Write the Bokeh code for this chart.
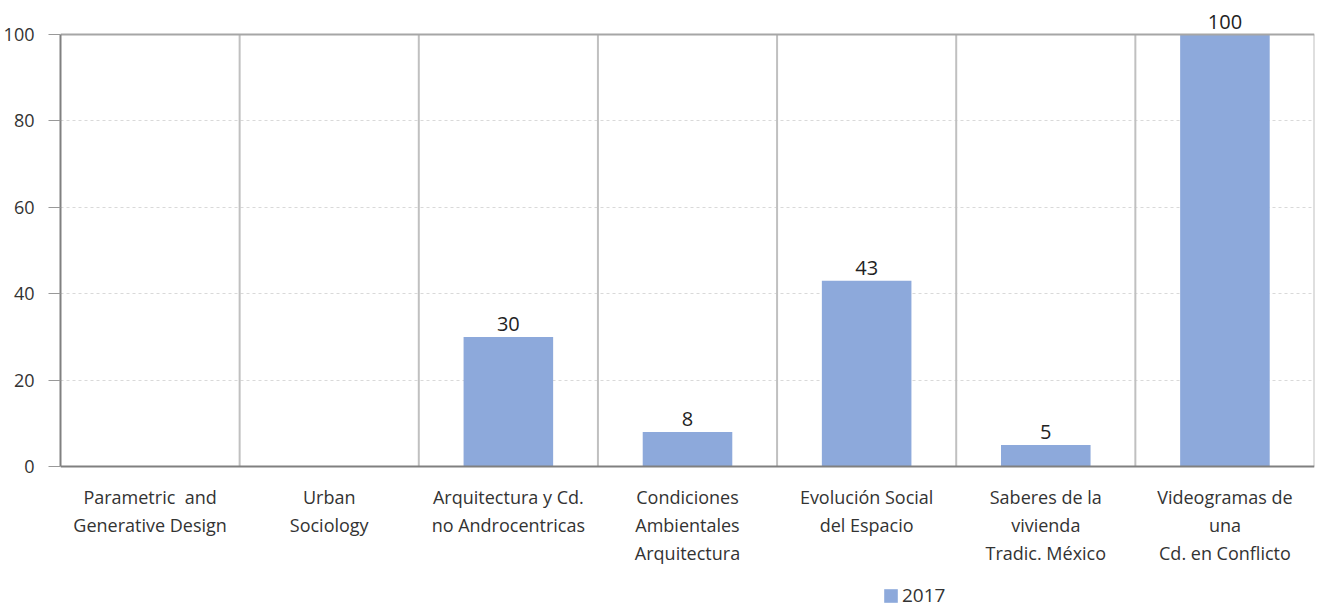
from bokeh.plotting import figure
from bokeh.models import ColumnDataSource, LabelSet, Legend, LegendItem, FixedTicker
from bokeh.core.properties import value
from bokeh.embed import file_html
from bokeh.resources import INLINE

categories = [
    "Parametric\u00a0 and\nGenerative Design",
    "Urban\nSociology",
    "Arquitectura y Cd.\nno Androcentricas",
    "Condiciones\nAmbientales\nArquitectura",
    "Evolución Social\ndel Espacio",
    "Saberes de la\nvivienda\nTradic. México",
    "Videogramas de\nuna\nCd. en Conflicto",
]
values_2017 = [0, 0, 30, 8, 43, 5, 100]
value_labels = ["", "", "30", "8", "43", "5", "100"]
series_name = "2017"
y_ticks = [0, 20, 40, 60, 80, 100]

FONT = "Open Sans"
H, W = 608, 1318
TOP_PX, ZERO_PX = 34, 466        # page rows of the 100 line and of the 0 line
TOP_PAD = 24                     # headroom above the 100 line for the value label
y_max = max(y_ticks)
px_per_unit = (ZERO_PX - TOP_PX) / y_max
y_end = y_max + TOP_PAD / px_per_unit
y_start = -(H - ZERO_PX) / px_per_unit

p = figure(x_range=categories, y_range=(y_start, y_end), width=W, height=H,
           output_backend="svg", toolbar_location=None,
           min_border_left=60, min_border_right=4, min_border_top=TOP_PX - TOP_PAD,
           min_border_bottom=0)
p.outline_line_color = None

src = ColumnDataSource(dict(cat=categories, val=values_2017, lab=value_labels))
r = p.vbar(x="cat", top="val", width=0.5, source=src, color="#8DA9DB", line_color=None)

# category separators and frame (top + right border)
n = len(categories)
sep_x = list(range(1, n + 1))
p.segment(x0=sep_x, y0=[0] * n, x1=sep_x, y1=[y_max] * n, line_color="#c0c0c0", line_width=2)
p.segment(x0=[0], y0=[y_max], x1=[n], y1=[y_max], line_color="#a6a6a6", line_width=2)

labels = LabelSet(x="cat", y="val", text="lab", source=src, y_offset=6,
                  text_align="center", text_baseline="bottom",
                  text_font=value(FONT), text_font_size="20px", text_color="#222222")
p.add_layout(labels)

p.xgrid.grid_line_color = None
p.ygrid.ticker = FixedTicker(ticks=y_ticks[1:-1])
p.ygrid.grid_line_color = "#d9d9d9"
p.ygrid.grid_line_dash = "3 3"
p.ygrid.grid_line_width = 1

p.yaxis.ticker = FixedTicker(ticks=y_ticks)
p.yaxis.bounds = (0, y_max)
p.yaxis.axis_line_color = "#808080"
p.yaxis.axis_line_width = 2
p.yaxis.major_tick_line_color = "#999999"
p.yaxis.major_tick_out = 12
p.yaxis.major_tick_in = 0
p.yaxis.minor_tick_line_color = None
p.yaxis.major_label_text_font = FONT
p.yaxis.major_label_text_font_size = "18px"
p.yaxis.major_label_text_color = "#333333"
p.yaxis.major_label_standoff = 14

p.xaxis.fixed_location = 0
p.xaxis.axis_line_color = "#808080"
p.xaxis.axis_line_width = 2
p.xaxis.major_tick_line_color = None
p.xaxis.minor_tick_line_color = None
p.xaxis.major_label_text_font = FONT
p.xaxis.major_label_text_font_size = "18px"
p.xaxis.major_label_text_color = "#333333"
p.xaxis.major_label_text_line_height = 1.18
p.xaxis.major_label_standoff = 12

legend = Legend(items=[LegendItem(label=series_name, renderers=[r])],
                location=(822, 0), orientation="horizontal",
                label_text_font=FONT, label_text_font_size="19px", label_text_color="#333333",
                glyph_width=17, glyph_height=17, label_standoff=3, padding=0, margin=0,
                border_line_color=None, background_fill_alpha=0)
p.add_layout(legend)

open("out.html", "w").write(file_html(p, INLINE))
